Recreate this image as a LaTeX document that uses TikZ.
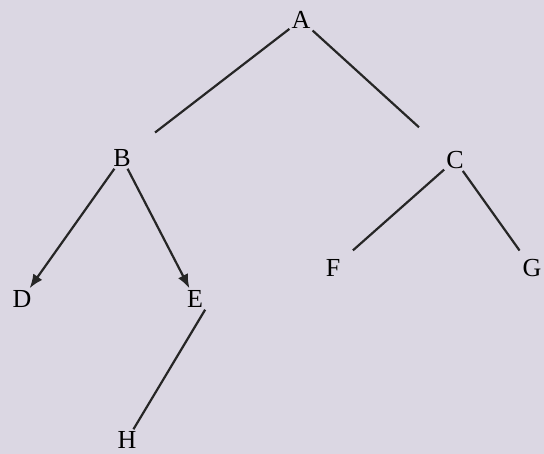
\documentclass[tikz,border=0pt]{standalone}
\usepackage{fontspec}
\setmainfont{Liberation Serif}
\usetikzlibrary{arrows.meta}

\tikzset{
    vertex/.style = {inner sep = 2pt, font = \fontsize{26}{30}\selectfont},
    edge/.style = {line width = 2.2pt, draw = black!85},
    arc/.style = {edge, -{Latex[length = 14pt, width = 11pt]}}
}

\begin{document}
\begin{tikzpicture}[x = 1pt, y = -1pt]
        \fill[fill = {rgb,255:red,219;green,215;blue,227}] (0, 0) rectangle (544, 454);
        \useasboundingbox (0, 0) rectangle (544, 454);
        \node[vertex] (A) at (301, 20) {A};
        \node[vertex] (B) at (122, 158) {B};
        \node[vertex] (C) at (455, 160) {C};
        \node[vertex] (D) at (22, 299) {D};
        \node[vertex] (E) at (195, 299) {E};
        \node[vertex] (F) at (333, 268) {F};
        \node[vertex] (G) at (532, 268) {G};
        \node[vertex] (H) at (127, 440) {H};
        \draw[edge, shorten > = 28pt] (A) -- (B);
        \draw[edge, shorten > = 34pt] (A) -- (C);
        \draw[arc] (B) -- (D);
        \draw[arc] (B) -- (E);
        \draw[edge] (E.south east) -- (H);
        \draw[edge, shorten > = 14pt] (C) -- (F);
        \draw[edge, shorten > = 8pt] (C) -- (G);
    \end{tikzpicture}
\end{document}
